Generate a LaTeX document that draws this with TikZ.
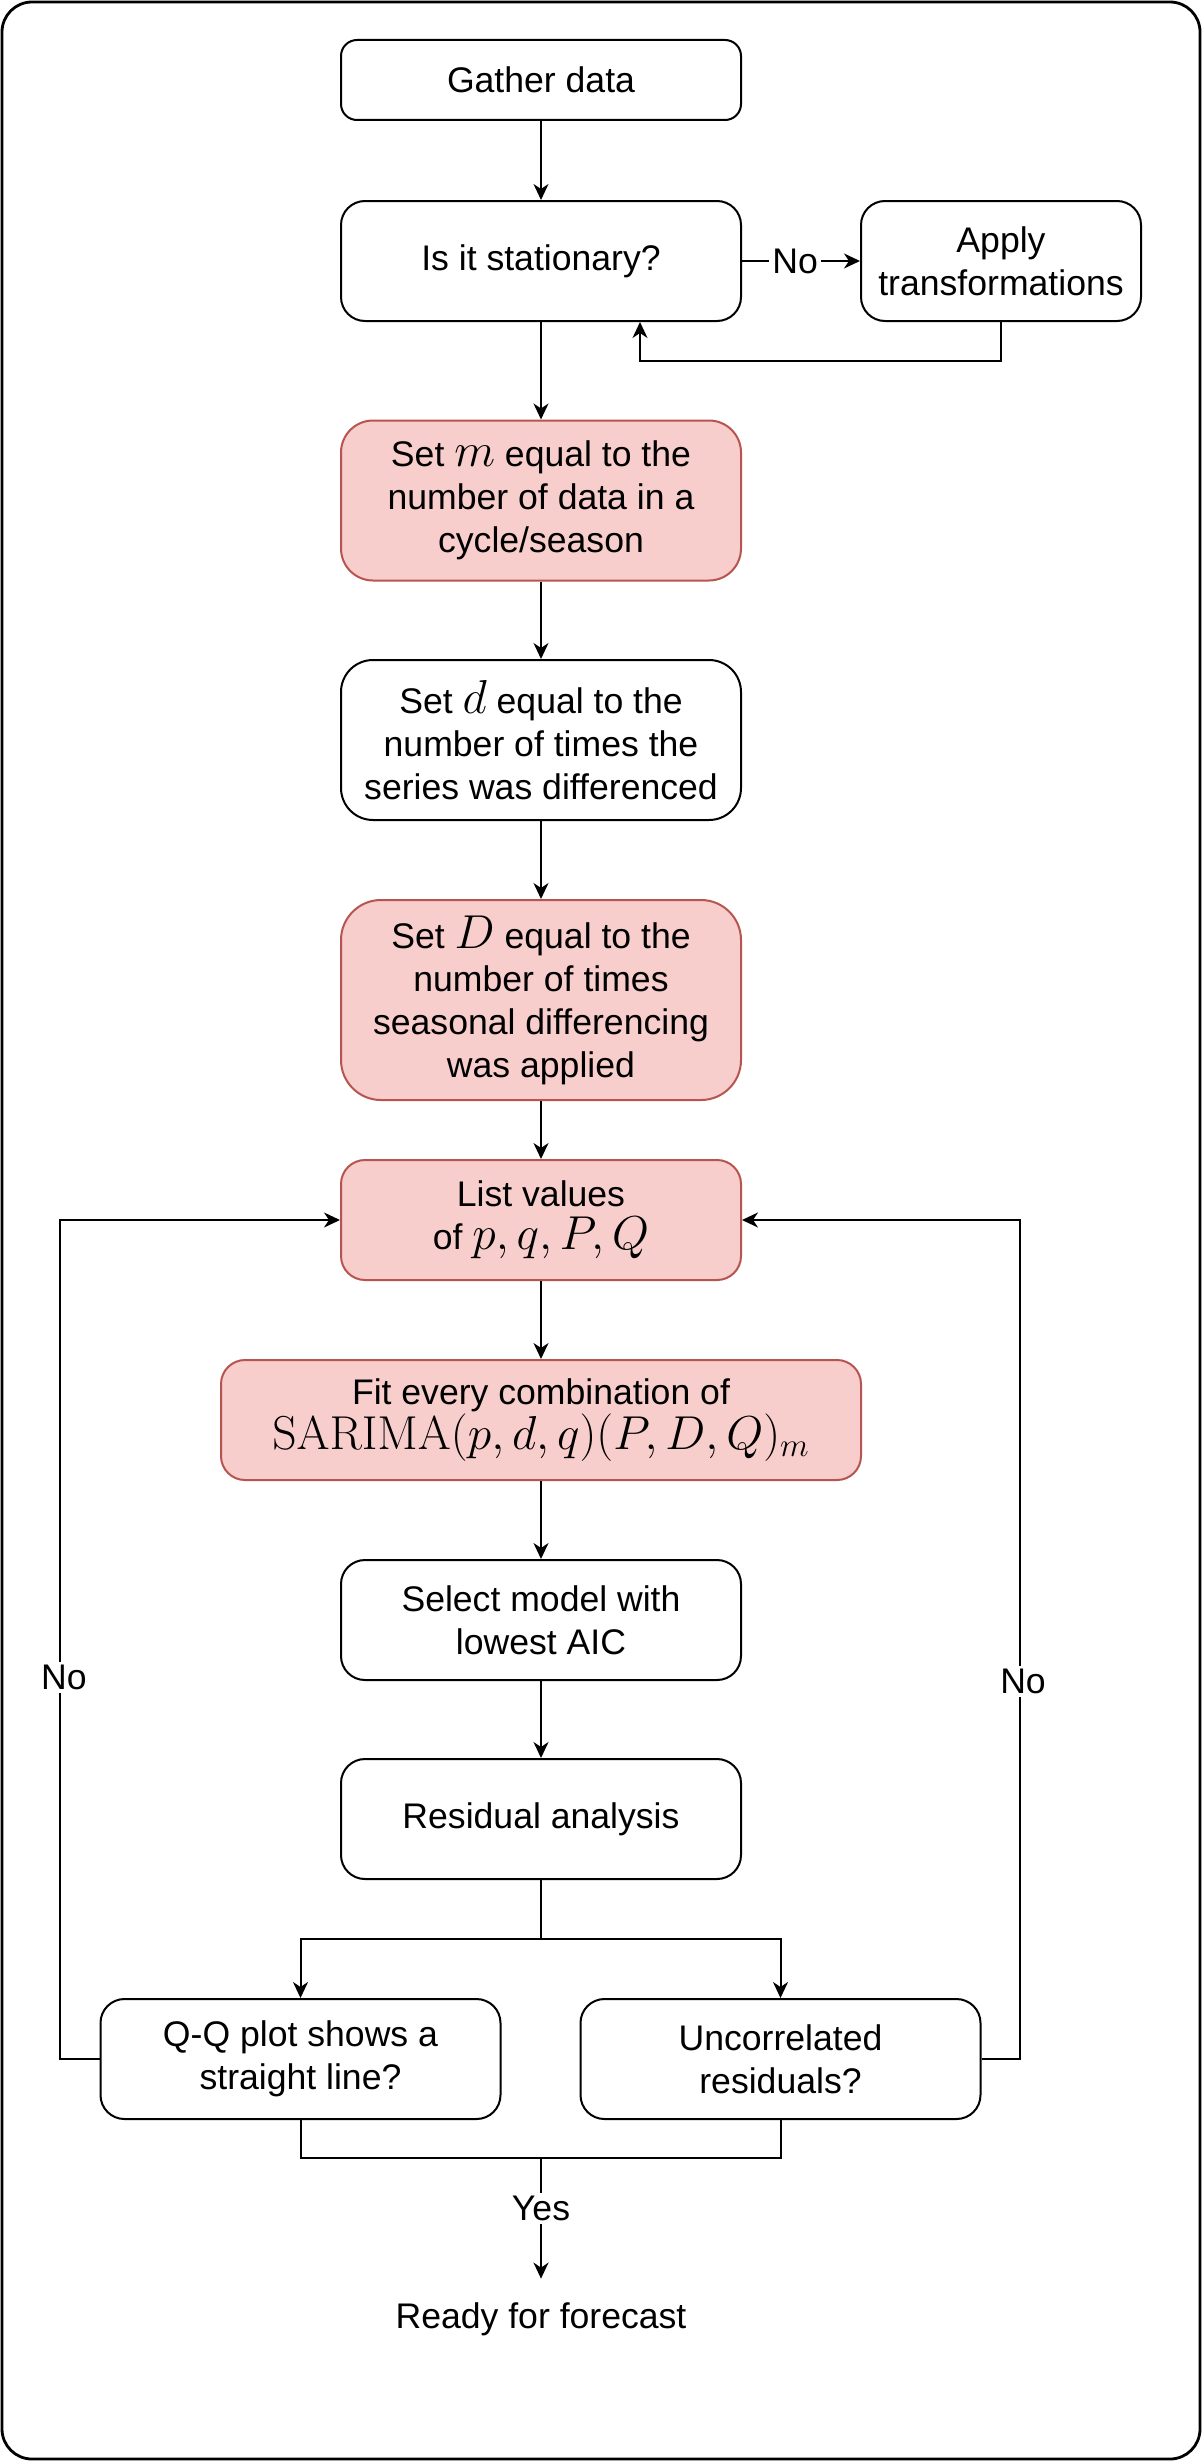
\RequirePackage{fix-cm}
\documentclass[tikz,border=0pt]{standalone}
\usepackage[no-math]{fontspec}
\setmainfont{Liberation Sans}
\usetikzlibrary{arrows.meta}
\definecolor{pinkfill}{HTML}{F8CECC}
\definecolor{pinkline}{HTML}{B85450}
\newcommand{\mth}[1]{{\fontsize{23.8}{21.5}\selectfont$#1$}}
\begin{document}
\begin{tikzpicture}[x=0.5pt,y=-0.5pt,
  txt/.style={font=\fontsize{17.8}{21.5}\selectfont, text=black},
  box/.style={txt, draw=black, line width=1pt, align=center, inner sep=0pt},
  pinkbox/.style={box, fill=pinkfill, draw=pinkline},
  ln/.style={line width=1pt, draw=black},
  arr/.style={ln, -{Stealth[length=8pt,width=7.5pt,inset=2.5pt]}},
  lbl/.style={txt, fill=white, inner sep=1.5pt}]
\useasboundingbox (0,0) rectangle (1202,2462);
\draw[line width=1.4pt, rounded corners=15pt] (2,2) rectangle (1200,2459);

\node[box, minimum width=200pt, minimum height=40pt, rounded corners=8pt] (gather) at (541,80) {Gather data};
\node[box, minimum width=200pt, minimum height=60pt, rounded corners=12pt] (stat) at (541,261) {Is it stationary?};
\node[box, minimum width=140pt, minimum height=60pt, rounded corners=12pt] (apply) at (1001,261) {Apply\\transformations};
\node[pinkbox, minimum width=200pt, minimum height=80pt, rounded corners=16pt] (setm) at (541,500.5) {Set \mth{m} equal to the\\number of data in a\\cycle/season};
\node[box, minimum width=200pt, minimum height=80pt, rounded corners=16pt] (setd) at (541,740) {Set \mth{d} equal to the\\number of times the\\series was differenced};
\node[pinkbox, minimum width=200pt, minimum height=100pt, rounded corners=20pt] (setD) at (541,1000) {Set \mth{D} equal to the\\number of times\\seasonal differencing\\was applied};
\node[pinkbox, minimum width=200pt, minimum height=60pt, rounded corners=12pt] (list) at (541,1220) {List values\\of \mth{p,q,P,Q}};
\node[pinkbox, minimum width=320pt, minimum height=60pt, rounded corners=12pt] (fit) at (541,1420) {Fit every combination of\\\mth{\mathrm{SARIMA}(p,d,q)(P,D,Q)_m}};
\node[box, minimum width=200pt, minimum height=60pt, rounded corners=12pt] (select) at (541,1620) {Select model with\\lowest AIC};
\node[box, minimum width=200pt, minimum height=60pt, rounded corners=12pt] (resid) at (541,1819) {Residual analysis};
\node[box, minimum width=200pt, minimum height=60pt, rounded corners=12pt] (qq) at (300.5,2059) {Q-Q plot shows a\\straight line?};
\node[box, minimum width=200pt, minimum height=60pt, rounded corners=12pt] (unc) at (780.5,2059) {Uncorrelated\\residuals?};
\node[txt, minimum width=200pt, minimum height=40pt, inner sep=0pt] (ready) at (541,2319) {Ready for forecast};

\coordinate (r1) at (640,361);
\coordinate (sp) at (541,1939);
\coordinate (mg) at (541,2158);
\coordinate (ll) at (60,1220);
\coordinate (rl) at (1020,1220);

\draw[arr] (gather) -- (stat);
\draw[arr] (stat.east) -- node[lbl, pos=0.45] {No} (apply.west);
\draw[arr] (apply.south) -- (apply.south |- r1) -- (r1) -- (r1 |- stat.south);
\draw[arr] (stat) -- (setm);
\draw[arr] (setm) -- (setd);
\draw[arr] (setd) -- (setD);
\draw[arr] (setD) -- (list);
\draw[arr] (list) -- (fit);
\draw[arr] (fit) -- (select);
\draw[arr] (select) -- (resid);
\draw[arr] (resid.south) -- (sp) -| (qq.north);
\draw[arr] (sp) -| (unc.north);
\draw[ln] (qq.south) |- (mg);
\draw[ln] (unc.south) |- (mg);
\draw[arr] (mg) -- node[lbl, pos=0.42] {Yes} (ready.north);
\draw[arr] (qq.west) -- (qq.west -| ll) -- node[lbl, pos=0.455, xshift=2pt] {No} (ll) -- (list.west);
\draw[arr] (unc.east) -- (unc.east -| rl) -- node[lbl, pos=0.45, xshift=1.5pt] {No} (rl) -- (list.east);
\end{tikzpicture}
\end{document}
